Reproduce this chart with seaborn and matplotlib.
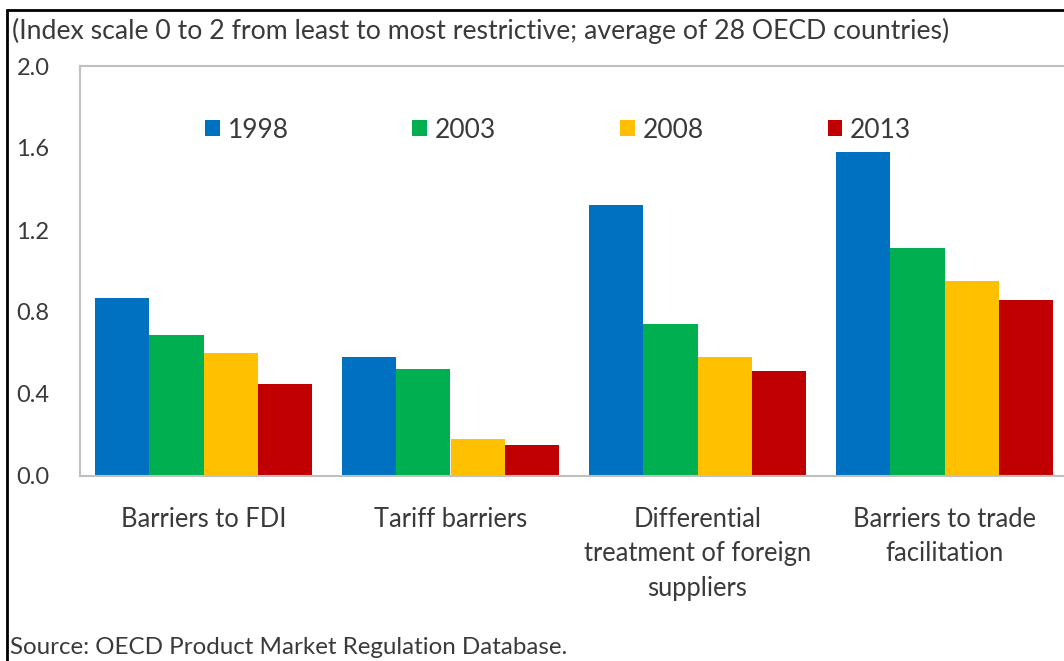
import matplotlib
matplotlib.use("Agg")
import matplotlib.pyplot as plt
from matplotlib.lines import Line2D
import seaborn as sns
import pandas as pd

categories = ["Barriers to FDI", "Tariff barriers",
              "Differential\ntreatment of foreign\nsuppliers",
              "Barriers to trade\nfacilitation"]
years = ["1998", "2003", "2008", "2013"]
values_1998 = [0.87, 0.58, 1.32, 1.58]
values_2003 = [0.69, 0.52, 0.74, 1.11]
values_2008 = [0.60, 0.18, 0.58, 0.95]
values_2013 = [0.45, 0.15, 0.51, 0.86]
yticks = [0.0, 0.4, 0.8, 1.2, 1.6, 2.0]
ytick_labels = ["0.0", "0.4", "0.8", "1.2", "1.6", "2.0"]
colors = ["#0070C0", "#00B050", "#FFC000", "#C00000"]
title = "(Index scale 0 to 2 from least to most restrictive; average of 28 OECD countries)"
source = "Source: OECD Product Market Regulation Database."

series = [values_1998, values_2003, values_2008, values_2013]
rows = []
for yr, vals in zip(years, series):
    for c, v in zip(categories, vals):
        rows.append({"Category": c, "Year": yr, "Value": v})
df = pd.DataFrame(rows)

sns.set_style("white")
plt.rcParams["font.family"] = ["Lato", "DejaVu Sans"]
txt = "#3A3A3A"

W, H = 1064, 661
fig = plt.figure(figsize=(W / 100, H / 100), dpi=100)
ax = fig.add_axes([80 / W, (H - 476) / H, 988 / W, 410 / H])

sns.barplot(data=df, x="Category", y="Value", hue="Year", order=categories,
            hue_order=years, palette=colors, width=0.88, saturation=1,
            edgecolor="none", linewidth=0, ax=ax)

ax.set_xlim(-0.5, 3.5)
ax.set_ylim(0, 2.0)
ax.set_yticks(yticks)
ax.set_yticklabels(ytick_labels)
ax.set_xlabel("")
ax.set_ylabel("")
ax.set_xticks(range(len(categories)))
ax.set_xticklabels(categories, linespacing=1.48)
ax.set_xticks([0.5, 1.5, 2.5], minor=True)
ax.tick_params(axis="x", which="major", length=0, pad=22, labelsize=18.4, labelcolor=txt)
ax.tick_params(axis="x", which="minor", direction="in", length=5, width=1, color="#A6A6A6")
ax.tick_params(axis="y", direction="in", length=5, width=1, color="#A6A6A6",
               pad=22, labelsize=17, labelcolor=txt)

for side in ["left", "bottom", "top", "right"]:
    ax.spines[side].set_color("#BFBFBF")
    ax.spines[side].set_linewidth(1.5)

handles, labels = ax.get_legend_handles_labels()
ax.legend(handles, labels, ncol=4, loc="center left",
          bbox_to_anchor=(125 / 988, (476 - 130) / 410), frameon=False,
          fontsize=19, handlelength=0.55, handleheight=0.55,
          handletextpad=0.3, columnspacing=4.7, labelcolor=txt,
          borderaxespad=0, borderpad=0)

fig.text(12 / W, 1 - 31 / H, title, ha="left", va="center", fontsize=19.2, color=txt)
fig.text(10 / W, 1 - 648 / H, source, ha="left", va="center", fontsize=17.4, color=txt)

fig.add_artist(Line2D([7 / W, 1.0], [1 - 10 / H, 1 - 10 / H], color="black", lw=2))
fig.add_artist(Line2D([7 / W, 7 / W], [1 - 10 / H, 0.0], color="black", lw=2))

fig.savefig("out.png", dpi=100)
